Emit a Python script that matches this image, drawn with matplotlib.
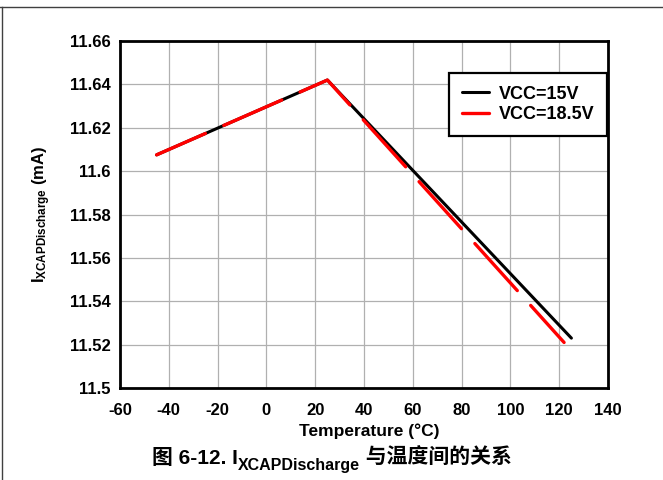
import matplotlib
matplotlib.use("Agg")
import matplotlib.pyplot as plt
from matplotlib.lines import Line2D

plt.rcParams['font.family'] = ['Liberation Sans', 'Noto Sans CJK SC', 'DejaVu Sans']
plt.rcParams['font.weight'] = 'bold'
plt.rcParams['axes.unicode_minus'] = False
plt.rcParams['mathtext.fontset'] = 'custom'
plt.rcParams['mathtext.rm'] = 'Liberation Sans:bold'
plt.rcParams['mathtext.bf'] = 'Liberation Sans:bold'
plt.rcParams['mathtext.it'] = 'Liberation Sans:bold'

# discharge current vs temperature
temp_15 = [-45, 25, 125]
i_15 = [11.6075, 11.642, 11.523]
temp_185 = [-45, 25, 122]
i_185 = [11.6075, 11.642, 11.521]

xticks = [-60, -40, -20, 0, 20, 40, 60, 80, 100, 120, 140]
yticks = [11.5, 11.52, 11.54, 11.56, 11.58, 11.6, 11.62, 11.64, 11.66]
ylabels = ['11.5', '11.52', '11.54', '11.56', '11.58', '11.6', '11.62', '11.64', '11.66']

W, H = 663, 480
fig = plt.figure(figsize=(W / 100, H / 100), dpi=100)
ax = fig.add_axes([120 / W, 1 - 388 / H, (608 - 120) / W, (388 - 41) / H])

ax.plot(temp_15, i_15, color='black', lw=2.2, solid_capstyle='round', label='VCC=15V', zorder=3)
ax.plot(temp_185, i_185, color='#ff0000', lw=2.4, linestyle=(3, (19, 6)),
        dash_capstyle='round', label='VCC=18.5V', zorder=4)

ax.set_xlim(-60, 140)
ax.set_ylim(11.5, 11.66)
ax.set_xticks(xticks)
ax.set_yticks(yticks)
ax.set_yticklabels(ylabels)
ax.tick_params(axis='both', length=0, labelsize=12)
ax.tick_params(axis='x', pad=11)
ax.tick_params(axis='y', pad=7)
ax.grid(True, color='#b0b0b0', lw=0.9)
ax.set_axisbelow(True)
for s in ax.spines.values():
    s.set_linewidth(2)

ax.set_xlabel('Temperature (°C)', fontsize=12.5, fontweight='bold')
ax.xaxis.set_label_coords(0.51, -0.103)
ax.set_ylabel(r'$\mathregular{I_{XCAPDischarge}}$ (mA)', fontsize=12, fontweight='bold')
ax.yaxis.set_label_coords(-0.137, 0.5)

leg = ax.legend(loc='upper right', bbox_to_anchor=(607 / W, 1 - 73 / H),
                bbox_transform=fig.transFigure, borderaxespad=0, fancybox=False,
                edgecolor='black', framealpha=1, prop={'size': 13, 'weight': 'bold'},
                handlelength=1.5, handletextpad=0.55, labelspacing=0.2, borderpad=0.7)
leg.get_frame().set_linewidth(1.6)

# page border lines
fig.add_artist(Line2D([0, 1], [1 - 6.5 / H, 1 - 6.5 / H], transform=fig.transFigure, color='#404040', lw=1))
fig.add_artist(Line2D([1.5 / W, 1.5 / W], [0, 1 - 6.5 / H], transform=fig.transFigure, color='#404040', lw=1))

# caption with subscript, built from pieces
fig.canvas.draw()
r = fig.canvas.get_renderer()
x0 = 152
base = 464
fp = dict(fontsize=15, fontweight='bold')
t1 = fig.text(x0 / W, 1 - base / H, '图 6-12. I', va='baseline', ha='left', **fp)
w1 = t1.get_window_extent(r).width
t2 = fig.text((x0 + w1) / W, 1 - (base + 6) / H, 'XCAPDischarge', va='baseline', ha='left',
              fontsize=11.5, fontweight='bold')
w2 = t2.get_window_extent(r).width
t3 = fig.text((x0 + w1 + w2) / W, 1 - base / H, ' 与温度间的关系', va='baseline', ha='left', **fp)

fig.savefig('out.png', dpi=100)
